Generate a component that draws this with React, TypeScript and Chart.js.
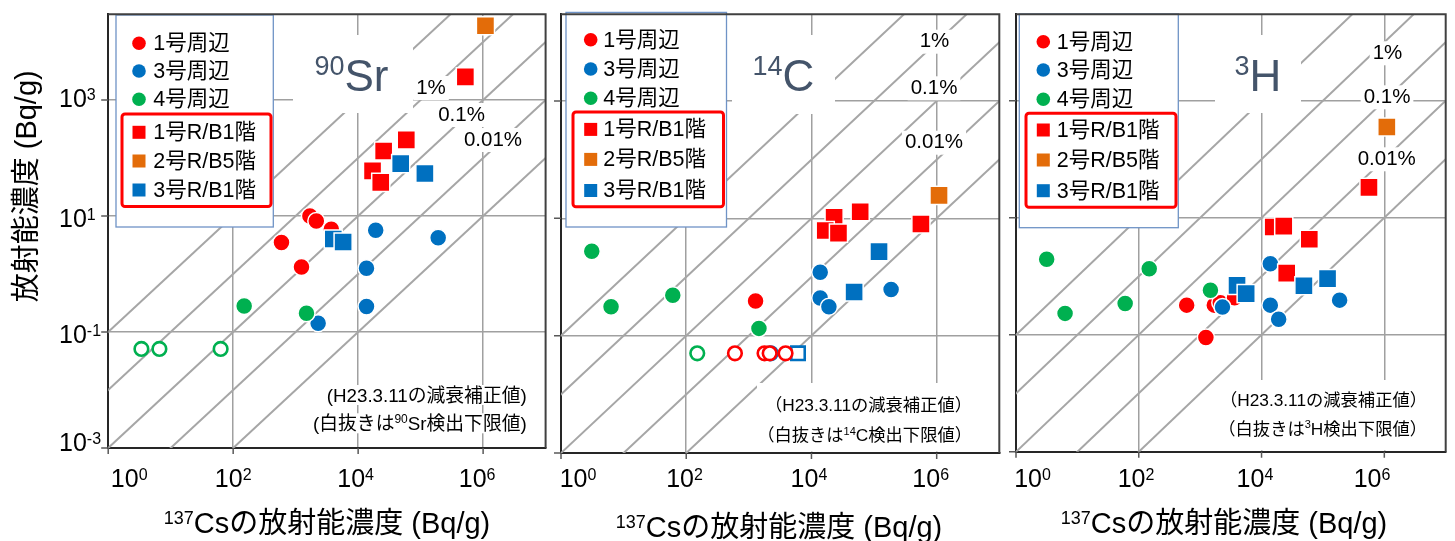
import { useEffect, useRef } from 'react';
import { Chart, registerables } from 'chart.js';

Chart.register(...registerables);

type Pt = [number, number];
type Box = [number, number, number, number];
type Seg = { t: string; sup?: boolean };

// ---------- shared axis / legend definitions ----------
const seriesNames = ['1号周辺', '3号周辺', '4号周辺', '1号R/B1階', '2号R/B5階', '3号R/B1階'];
const ratioValues = [1e-1, 1e-2, 1e-3, 1e-4, 1e-5];
const ratioLabels = ['1%', '0.1%', '0.01%'];
const xTickValues = [1, 1e2, 1e4, 1e6];
const xTickExps = ['0', '2', '4', '6'];
const yTickValues = [1e-3, 1e-1, 1e1, 1e3];
const yTickExps = ['-3', '-1', '1', '3'];
const X_MIN = 1;
const X_MAX = 1e7;
const Y_MIN = 1e-3;
const Y_MAX = 3e4;

// ---------- 90Sr ----------
const srUnit1: Pt[] = [[1690, 10], [2140, 8.2], [3720, 5.9], [593, 3.5], [1240, 1.32]];
const srUnit3: Pt[] = [[19100, 5.7], [191000, 4.2], [13600, 1.26], [13600, 0.274], [2290, 0.142]];
const srUnit4: Pt[] = [[150, 0.281], [1490, 0.211]];
const srUnit4Nd: Pt[] = [[3.4, 0.051], [6.6, 0.051], [63, 0.051]];
const srRb1: Pt[] = [[520000, 2500], [59000, 205], [25600, 132], [17000, 60], [23000, 38]];
const srRb2: Pt[] = [[1.09e6, 19000]];
const srRb3: Pt[] = [[48000, 80], [117000, 54], [4000, 4.0], [5750, 3.55]];

// ---------- 14C ----------
const c14Unit1: Pt[] = [[1280, 0.39]];
const c14Unit1Nd: Pt[] = [[600, 0.05], [1780, 0.05], [2150, 0.05], [3860, 0.05]];
const c14Unit3: Pt[] = [[13800, 1.2], [13800, 0.44], [19000, 0.31], [187000, 0.61]];
const c14Unit3Nd: Pt[] = [[2240, 0.05]];
const c14Unit4: Pt[] = [[3.1, 2.75], [6.3, 0.31], [61, 0.49], [1450, 0.133]];
const c14Unit4Nd: Pt[] = [[150, 0.05]];
const c14Rb1: Pt[] = [[23000, 10.4], [16600, 6.2], [27000, 5.6], [60000, 12.9], [560000, 8.0]];
const c14Rb2: Pt[] = [[1.09e6, 24.6]];
const c14Rb3: Pt[] = [[120000, 2.7], [48000, 0.556]];
const c14Rb3Nd: Pt[] = [[6100, 0.05]];

// ---------- 3H ----------
const h3Unit1: Pt[] = [[603, 0.321], [1240, 0.09], [1700, 0.321], [2130, 0.352], [3630, 0.428]];
const h3Unit3: Pt[] = [[2310, 0.297], [13900, 1.63], [13900, 0.321], [19000, 0.184], [187000, 0.391]];
const h3Unit4: Pt[] = [[3.16, 1.95], [6.3, 0.232], [60, 0.343], [148, 1.34], [1470, 0.577]];
const h3Rb1: Pt[] = [[562000, 33], [15500, 6.95], [23000, 7.2], [60000, 4.3], [25700, 1.13]];
const h3Rb2: Pt[] = [[1.1e6, 355]];
const h3Rb3: Pt[] = [[3990, 0.7], [5620, 0.506], [49000, 0.69], [119000, 0.91]];

// ---------- styling ----------
const RED = '#FF0000';
const BLUE = '#0070C0';
const GREEN = '#00B050';
const ORANGE = '#E36C09';
const GRID = '#A0A0A0';
const RATIO = '#A6A6A6';
const FRAME = '#262626';
const TITLE = '#44546A';
const FAMILY = "'Liberation Sans', 'Noto Sans CJK JP', sans-serif";
const fnt = (px: number) => `${px}px ${FAMILY}`;
const CANVAS_W = 1460;
const CANVAS_H = 541;

const legendColors = [RED, BLUE, GREEN, RED, ORANGE, BLUE];

interface PanelData {
  unit1: Pt[]; unit3: Pt[]; unit4: Pt[]; rb1: Pt[]; rb2: Pt[]; rb3: Pt[];
  unit1Nd: Pt[]; unit3Nd: Pt[]; unit4Nd: Pt[]; rb3Nd: Pt[];
}

interface NoteLine { segs: Seg[]; right: number; cy: number }

interface PanelLayout {
  area: Box;
  titleSup: string;
  titleMain: string;
  titleCx: number;
  titleBox: Box;
  pctCenters: Pt[];
  legendBox: Box;
  legendGroup: Box;
  legendMarkerX: number;
  legendTextX: number;
  legendRows: number[];
  notesBox: Box | null;
  noteLines: NoteLine[];
  noteFont: number;
  xTitleCx: number;
  xTitleBase: number;
  xTickOffsets: number[];
  yLabels: boolean;
}

interface PanelSpec { data: PanelData; layout: PanelLayout }

const panels: PanelSpec[] = [
  {
    data: {
      unit1: srUnit1, unit3: srUnit3, unit4: srUnit4, rb1: srRb1, rb2: srRb2, rb3: srRb3,
      unit1Nd: [], unit3Nd: [], unit4Nd: srUnit4Nd, rb3Nd: [],
    },
    layout: {
      area: [108.2, 11, 545.6, 448],
      titleSup: '90', titleMain: 'Sr', titleCx: 351.5, titleBox: [293, 35, 413, 113],
      pctCenters: [[431, 88], [461.5, 115], [493, 140]],
      legendBox: [116, 15, 273.3, 227], legendGroup: [122, 114, 271, 206.5],
      legendMarkerX: 139, legendTextX: 153.3, legendRows: [43.3, 71, 99.3, 132.3, 161, 190],
      notesBox: null,
      noteLines: [
        { segs: [{ t: '(H23.3.11の減衰補正値)' }], right: 526.7, cy: 395 },
        { segs: [{ t: '(白抜きは' }, { t: '90', sup: true }, { t: 'Sr検出下限値)' }], right: 526.7, cy: 423.3 },
      ],
      noteFont: 18.8,
      xTitleCx: 327, xTitleBase: 533,
      xTickOffsets: [21, 0, -2.5, -6],
      yLabels: true,
    },
  },
  {
    data: {
      unit1: c14Unit1, unit3: c14Unit3, unit4: c14Unit4, rb1: c14Rb1, rb2: c14Rb2, rb3: c14Rb3,
      unit1Nd: c14Unit1Nd, unit3Nd: c14Unit3Nd, unit4Nd: c14Unit4Nd, rb3Nd: c14Rb3Nd,
    },
    layout: {
      area: [561, 9.8, 999.3, 453],
      titleSup: '14', titleMain: 'C', titleCx: 783.3, titleBox: [732, 35, 835, 114],
      pctCenters: [[934.5, 41.7], [934, 88.3], [934, 142.7]],
      legendBox: [566, 12.4, 726.5, 227], legendGroup: [573, 112, 723.5, 206.7],
      legendMarkerX: 590.7, legendTextX: 603.3, legendRows: [39.7, 69, 98.3, 129.4, 159.4, 190.5],
      notesBox: [757, 383, 997.5, 451.5],
      noteLines: [
        { segs: [{ t: '（H23.3.11の減衰補正値）' }], right: 972, cy: 405 },
        { segs: [{ t: '（白抜きは' }, { t: '14', sup: true }, { t: 'C検出下限値）' }], right: 972, cy: 435 },
      ],
      noteFont: 17.3,
      xTitleCx: 779, xTitleBase: 537,
      xTickOffsets: [17, -1.7, -2.5, -6],
      yLabels: false,
    },
  },
  {
    data: {
      unit1: h3Unit1, unit3: h3Unit3, unit4: h3Unit4, rb1: h3Rb1, rb2: h3Rb2, rb3: h3Rb3,
      unit1Nd: [], unit3Nd: [], unit4Nd: [], rb3Nd: [],
    },
    layout: {
      area: [1016, 10.1, 1457, 451.8],
      titleSup: '3', titleMain: 'H', titleCx: 1258, titleBox: [1215, 35, 1301, 113],
      pctCenters: [[1387.5, 53.3], [1387, 97.3], [1386.7, 159.3]],
      legendBox: [1019.3, 14, 1178.3, 227.7], legendGroup: [1026, 113.3, 1176, 207.3],
      legendMarkerX: 1043.3, legendTextX: 1056.7, legendRows: [41.7, 70, 99.3, 130, 160, 190.7],
      notesBox: [1217, 380, 1457, 450.3],
      noteLines: [
        { segs: [{ t: '（H23.3.11の減衰補正値）' }], right: 1427, cy: 400 },
        { segs: [{ t: '（白抜きは' }, { t: '3', sup: true }, { t: 'H検出下限値）' }], right: 1427, cy: 428.3 },
      ],
      noteFont: 17.3,
      xTitleCx: 1224, xTitleBase: 533,
      xTickOffsets: [16.5, -2.7, -6.6, -12.3],
      yLabels: false,
    },
  },
];

const toXY = (pts: Pt[]) => pts.map(([x, y]) => ({ x, y }));

function filled(label: string, pts: Pt[], color: string, style: 'circle' | 'rect', order: number) {
  const r = style === 'rect' ? 12.8 : 8.5;
  return {
    label, data: toXY(pts), showLine: false, order,
    pointStyle: style, pointRadius: r, pointHoverRadius: r,
    pointBackgroundColor: color, pointBorderColor: '#FFFFFF',
    pointBorderWidth: 1.5, pointHoverBorderWidth: 1.5,
  };
}

function open(label: string, pts: Pt[], color: string, style: 'circle' | 'rect', order: number) {
  const r = style === 'rect' ? 9.5 : 6.8;
  return {
    label, data: toXY(pts), showLine: false, order,
    pointStyle: style, pointRadius: r, pointHoverRadius: r,
    pointBackgroundColor: '#FFFFFF', pointBorderColor: color,
    pointBorderWidth: 2.6, pointHoverBorderWidth: 2.6,
  };
}

function buildDatasets(d: PanelData) {
  // y = r·x reference lines, spanning well past the axis limits and clipped to the plot
  const ratioSets = ratioValues.map((r) => ({
    label: `ratio ${r}`,
    data: [{ x: 1e-6, y: r * 1e-6 }, { x: 1e9, y: r * 1e9 }],
    showLine: true, borderColor: RATIO, borderWidth: 2,
    pointRadius: 0, pointHoverRadius: 0, order: 100,
  }));
  return [
    ...ratioSets,
    filled(seriesNames[0], d.unit1, RED, 'circle', 20),
    filled(seriesNames[1], d.unit3, BLUE, 'circle', 19),
    filled(seriesNames[2], d.unit4, GREEN, 'circle', 18),
    filled(seriesNames[3], d.rb1, RED, 'rect', 17),
    filled(seriesNames[4], d.rb2, ORANGE, 'rect', 16),
    filled(seriesNames[5], d.rb3, BLUE, 'rect', 15),
    open(seriesNames[2], d.unit4Nd, GREEN, 'circle', 14),
    open(seriesNames[5], d.rb3Nd, BLUE, 'rect', 13),
    open(seriesNames[1], d.unit3Nd, BLUE, 'circle', 12),
    open(seriesNames[0], d.unit1Nd, RED, 'circle', 11),
  ];
}

function richWidth(ctx: CanvasRenderingContext2D, segs: Seg[], size: number, supSize: number) {
  let w = 0;
  for (const s of segs) {
    ctx.font = fnt(s.sup ? supSize : size);
    w += ctx.measureText(s.t).width;
  }
  return w;
}

function drawRich(
  ctx: CanvasRenderingContext2D, segs: Seg[], x: number, base: number,
  size: number, supSize: number, raise: number, align: 'left' | 'center' | 'right',
) {
  const total = richWidth(ctx, segs, size, supSize);
  let cx = align === 'left' ? x : align === 'center' ? x - total / 2 : x - total;
  ctx.textAlign = 'left';
  ctx.textBaseline = 'alphabetic';
  for (const s of segs) {
    ctx.font = fnt(s.sup ? supSize : size);
    ctx.fillText(s.t, cx, s.sup ? base - raise : base);
    cx += ctx.measureText(s.t).width;
  }
  return total;
}

function fillBox(ctx: CanvasRenderingContext2D, b: Box) {
  ctx.fillStyle = '#FFFFFF';
  ctx.fillRect(b[0], b[1], b[2] - b[0], b[3] - b[1]);
}

// White-backed annotations that sit above the reference lines but below the markers
function drawOverlays(chart: Chart, L: PanelLayout) {
  const ctx = chart.ctx;
  ctx.save();

  // panel title
  fillBox(ctx, L.titleBox);
  ctx.fillStyle = TITLE;
  drawRich(ctx, [{ t: L.titleSup, sup: true }, { t: L.titleMain }], L.titleCx, 91, 44, 27, 16, 'center');

  // ratio labels
  ctx.font = fnt(20.5);
  L.pctCenters.forEach(([cx, cy], i) => {
    const w = ctx.measureText(ratioLabels[i]).width;
    fillBox(ctx, [cx - w / 2 - 3, cy - 12, cx + w / 2 + 3, cy + 12]);
    ctx.fillStyle = '#000000';
    ctx.font = fnt(20.5);
    ctx.textAlign = 'center';
    ctx.textBaseline = 'middle';
    ctx.fillText(ratioLabels[i], cx, cy);
  });

  // notes
  if (L.notesBox) fillBox(ctx, L.notesBox);
  const supNote = Math.round(L.noteFont * 0.62);
  L.noteLines.forEach((n) => {
    const w = richWidth(ctx, n.segs, L.noteFont, supNote);
    fillBox(ctx, [n.right - w - 2, n.cy - 10, n.right + 2, n.cy + 10]);
    ctx.fillStyle = '#000000';
    drawRich(ctx, n.segs, n.right, n.cy + L.noteFont * 0.36, L.noteFont, supNote, L.noteFont * 0.38, 'right');
  });

  // legend
  const lb = L.legendBox;
  fillBox(ctx, lb);
  ctx.strokeStyle = '#6F93C6';
  ctx.lineWidth = 1.3;
  ctx.strokeRect(lb[0], lb[1], lb[2] - lb[0], lb[3] - lb[1]);
  L.legendRows.forEach((y, i) => {
    ctx.fillStyle = legendColors[i];
    if (i < 3) {
      ctx.beginPath();
      ctx.arc(L.legendMarkerX, y, 6.8, 0, Math.PI * 2);
      ctx.fill();
    } else {
      ctx.fillRect(L.legendMarkerX - 6.5, y - 6.5, 13, 13);
    }
    ctx.fillStyle = '#000000';
    ctx.font = fnt(21.5);
    ctx.textAlign = 'left';
    ctx.textBaseline = 'middle';
    ctx.fillText(seriesNames[i], L.legendTextX, y + 1);
  });
  const g = L.legendGroup;
  ctx.strokeStyle = RED;
  ctx.lineWidth = 3;
  ctx.beginPath();
  ctx.roundRect(g[0], g[1], g[2] - g[0], g[3] - g[1], 3);
  ctx.stroke();

  ctx.restore();
}

function drawAxesDecor(chart: Chart, L: PanelLayout) {
  const ctx = chart.ctx;
  const { left, top, right, bottom } = chart.chartArea;
  const xs = chart.scales.x;
  const ys = chart.scales.y;
  ctx.save();

  // top and right edges of the plot frame
  ctx.strokeStyle = '#404040';
  ctx.lineWidth = 2;
  ctx.beginPath();
  ctx.moveTo(left, top);
  ctx.lineTo(right, top);
  ctx.lineTo(right, bottom);
  ctx.stroke();

  // outward tick marks
  ctx.strokeStyle = '#595959';
  ctx.lineWidth = 1.5;
  ctx.beginPath();
  xTickValues.forEach((v) => {
    const px = xs.getPixelForValue(v);
    ctx.moveTo(px, bottom);
    ctx.lineTo(px, bottom + 6);
  });
  yTickValues.forEach((v) => {
    const py = ys.getPixelForValue(v);
    ctx.moveTo(left - 7, py);
    ctx.lineTo(left, py);
  });
  ctx.stroke();

  ctx.fillStyle = '#000000';
  // x tick labels (10^n)
  xTickValues.forEach((v, i) => {
    const px = xs.getPixelForValue(v) + L.xTickOffsets[i];
    drawRich(ctx, [{ t: '10' }, { t: xTickExps[i], sup: true }], px, 487, 25, 16, 7, 'center');
  });

  // y tick labels on the first panel only
  if (L.yLabels) {
    const centerShift = [-6, 2, 2, -1.5];
    yTickValues.forEach((v, i) => {
      const py = ys.getPixelForValue(v) + centerShift[i];
      drawRich(ctx, [{ t: '10' }, { t: yTickExps[i], sup: true }], 59, py + 9, 25, 16, 7, 'left');
    });
    ctx.save();
    ctx.translate(27.7, 186.3);
    ctx.rotate(-Math.PI / 2);
    ctx.font = fnt(29);
    ctx.textAlign = 'center';
    ctx.textBaseline = 'middle';
    ctx.fillText('放射能濃度 (Bq/g)', 0, 0);
    ctx.restore();
  }

  // x axis title
  drawRich(ctx, [{ t: '137', sup: true }, { t: 'Csの放射能濃度 (Bq/g)' }], L.xTitleCx, L.xTitleBase, 29, 18, 9, 'center');

  ctx.restore();
}

function makeConfig(spec: PanelSpec) {
  const L = spec.layout;
  const [left, top, right, bottom] = L.area;
  let overlaysDone = false;
  const decor = {
    id: 'panelDecor',
    beforeDatasetsDraw() { overlaysDone = false; },
    beforeDatasetDraw(chart: Chart, args: { index: number }) {
      if (overlaysDone || args.index < ratioValues.length) return;
      overlaysDone = true;
      drawOverlays(chart, L);
    },
    afterDraw(chart: Chart) { drawAxesDecor(chart, L); },
  };
  const axisBase = {
    type: 'logarithmic' as const,
    ticks: { display: false },
    grid: { color: GRID, lineWidth: 1.5, drawTicks: false },
    border: { display: true, color: FRAME, width: 2 },
  };
  return {
    type: 'scatter' as const,
    data: { datasets: buildDatasets(spec.data) },
    options: {
      responsive: false,
      animation: false as const,
      devicePixelRatio: 1,
      events: [],
      layout: { padding: { left, top, right: CANVAS_W - right, bottom: CANVAS_H - bottom } },
      plugins: { legend: { display: false }, tooltip: { enabled: false } },
      scales: {
        x: {
          ...axisBase, position: 'bottom' as const, min: X_MIN, max: X_MAX,
          afterBuildTicks: (s: any) => { s.ticks = xTickValues.map((v) => ({ value: v })); },
        },
        y: {
          ...axisBase, position: 'left' as const, min: Y_MIN, max: Y_MAX,
          afterBuildTicks: (s: any) => { s.ticks = yTickValues.map((v) => ({ value: v })); },
        },
      },
    },
    plugins: [decor],
  };
}

function PanelChart({ spec }: { spec: PanelSpec }) {
  const ref = useRef<HTMLCanvasElement>(null);
  useEffect(() => {
    if (!ref.current) return;
    const chart = new Chart(ref.current, makeConfig(spec) as any);
    return () => chart.destroy();
  }, [spec]);
  return (
    <canvas
      ref={ref}
      width={CANVAS_W}
      height={CANVAS_H}
      style={{ position: 'absolute', left: 0, top: 0, width: CANVAS_W, height: CANVAS_H }}
    />
  );
}

export default function App() {
  return (
    <div
      style={{
        position: 'fixed', left: 0, top: 0, width: 1455, height: 541,
        overflow: 'hidden', background: '#FFFFFF',
      }}
    >
      {panels.map((p, i) => <PanelChart key={i} spec={p} />)}
    </div>
  );
}
